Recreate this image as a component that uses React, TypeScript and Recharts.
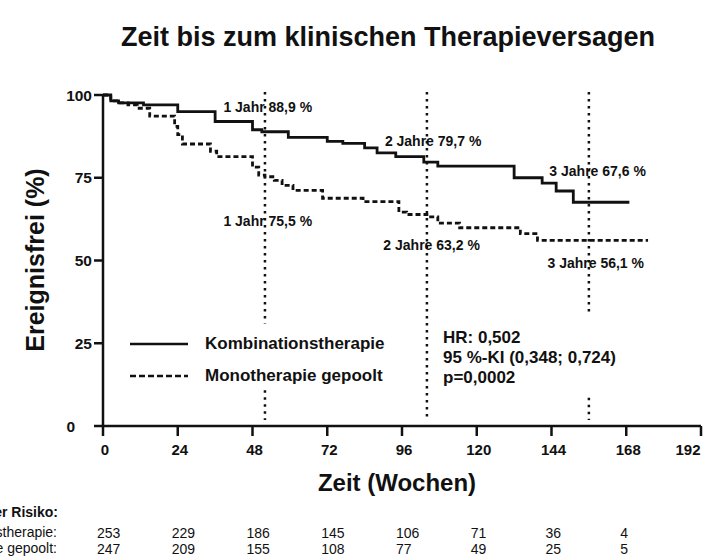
import React from 'react';
import { LineChart, Line, XAxis, YAxis, ReferenceLine, ReferenceDot } from 'recharts';

const FONT = '"Liberation Sans", Arial, Helvetica, sans-serif';

// x-axis ticks (weeks)
const weekTicks = [0, 24, 48, 72, 96, 120, 144, 168, 192];
const survTicks = [0, 25, 50, 75, 100];

// Kaplan-Meier steps: Kombinationstherapie
const kombiTime = [0, 2.5, 5, 13, 24, 36, 48, 51, 59.5, 72, 77, 84, 88, 94, 103, 107.5, 132, 141, 145.5, 151, 169];
const kombiSurv = [100, 98.2, 97.6, 97.0, 95.0, 92.0, 89.5, 88.9, 87.2, 86.0, 85.4, 84.0, 82.5, 81.4, 79.7, 78.5, 75.0, 73.4, 71.0, 67.6, 67.6];

// Kaplan-Meier steps: Monotherapie gepoolt
const monoTime = [0, 2.5, 5, 8, 11, 15, 23, 24, 25.5, 34.5, 36.5, 48, 50, 52, 55, 57.5, 61, 70.5, 83.5, 95, 97.5, 104, 107.5, 114.5, 134, 139.5, 175];
const monoSurv = [100, 98.2, 97.6, 97.0, 96.0, 93.6, 90.5, 88.0, 85.2, 83.0, 81.4, 78.2, 75.8, 75.3, 74.2, 72.7, 71.2, 68.8, 67.8, 64.6, 63.9, 63.2, 61.3, 59.9, 58.1, 56.1, 56.1];

// Numbers at risk
const riskKombi = [253, 229, 186, 145, 106, 71, 36, 4];
const riskMono = [247, 209, 155, 108, 77, 49, 25, 5];

// Landmark lines (weeks) with visible segments [top, bottom] in %
const landmarkWeeks = [52, 104, 156];
const landmarkSegments = [
  [[100.9, 31], [10.8, 1.8]],
  [[100.9, 1.8]],
  [[100.9, 33.5], [8.5, 1.8]],
];

// Landmark annotations
const annoText = ['1 Jahr 88,9 %', '1 Jahr 75,5 %', '2 Jahre 79,7 %', '2 Jahre 63,2 %', '3 Jahre 67,6 %', '3 Jahre 56,1 %'];
const annoX = [52.9, 52.9, 106, 105.5, 158.8, 158.2];
const annoY = [96.5, 62.0, 86.0, 54.8, 77.0, 49.3];

const seriesNames = ['Kombinationstherapie', 'Monotherapie gepoolt'];
const statLines = ['HR: 0,502', '95 %-KI (0,348; 0,724)', 'p=0,0002'];

const kombiData = kombiTime.map((t, i) => ({ t, s: kombiSurv[i] }));
const monoData = monoTime.map((t, i) => ({ t, s: monoSurv[i] }));

const YTick = (props: any) => {
  const { x, y, payload } = props;
  const shift = payload.value === 0 ? 17 : 0;
  return (
    <text x={x - shift} y={y} dy={5.5} textAnchor="end" fontFamily={FONT} fontSize={15.5} fontWeight="bold" fill="#111">
      {payload.value}
    </text>
  );
};

const XTick = (props: any) => {
  const { x, y, payload, width } = props;
  const i = weekTicks.indexOf(payload.value);
  const isLast = i === weekTicks.length - 1;
  return (
    <g>
      <text x={isLast ? x - 13 : x + 2} y={y + 17} textAnchor="middle" fontFamily={FONT} fontSize={15} fontWeight="bold" fill="#111">
        {payload.value}
      </text>
      {i >= 0 && i < riskKombi.length && (
        <text x={x - 6} y={y + 100} textAnchor="start" fontFamily={FONT} fontSize={14} fill="#111">
          {riskKombi[i]}
        </text>
      )}
      {i >= 0 && i < riskMono.length && (
        <text x={x - 6} y={y + 116} textAnchor="start" fontFamily={FONT} fontSize={14} fill="#111">
          {riskMono[i]}
        </text>
      )}
    </g>
  );
};

export default function App() {
  return (
    <div style={{ position: 'absolute', left: 0, top: 0, width: 713, height: 560, background: '#fff', overflow: 'hidden', fontFamily: FONT, color: '#111' }}>
      <div style={{ position: 'absolute', left: 0, width: 776, top: 22, textAlign: 'center', fontSize: 27, fontWeight: 'bold' }}>
        Zeit bis zum klinischen Therapieversagen
      </div>
      <LineChart width={713} height={560} margin={{ top: 95, right: 12, bottom: 0, left: 0 }}>
        <XAxis
          type="number"
          dataKey="t"
          domain={[0, 192]}
          ticks={weekTicks}
          interval={0}
          allowDataOverflow
          axisLine={{ stroke: '#111', strokeWidth: 2.5 }}
          tickLine={{ stroke: '#111', strokeWidth: 2.5 }}
          tickSize={10}
          height={134}
          tick={<XTick />}
        />
        <YAxis
          type="number"
          domain={[0, 100]}
          ticks={survTicks}
          interval={0}
          axisLine={{ stroke: '#111', strokeWidth: 2.5 }}
          tickLine={{ stroke: '#111', strokeWidth: 2.5 }}
          tickSize={9}
          width={103}
          tick={<YTick />}
        />
        {landmarkWeeks.map((w, li) =>
          landmarkSegments[li].map((seg, si) => (
            <ReferenceLine
              key={`rl-${li}-${si}`}
              segment={[{ x: w, y: seg[0] }, { x: w, y: seg[1] }]}
              stroke="#111"
              strokeWidth={2.5}
              strokeDasharray="2.5 4.5"
              ifOverflow="visible"
            />
          ))
        )}
        <Line data={kombiData} dataKey="s" name={seriesNames[0]} type="stepAfter" stroke="#111" strokeWidth={2.8} dot={false} isAnimationActive={false} />
        <Line data={monoData} dataKey="s" name={seriesNames[1]} type="stepAfter" stroke="#111" strokeWidth={2.8} strokeDasharray="5 3" dot={false} isAnimationActive={false} />
        {annoText.map((txt, i) => (
          <ReferenceDot
            key={`a-${i}`}
            x={annoX[i]}
            y={annoY[i]}
            r={0}
            fill="none"
            stroke="none"
            ifOverflow="visible"
            label={{ value: txt, position: 'center', fill: '#111', fontSize: 14, fontWeight: 'bold', fontFamily: FONT }}
          />
        ))}
      </LineChart>
      <div style={{ position: 'absolute', left: 130, top: 328, fontWeight: 'bold', fontSize: 17 }}>
        {seriesNames.map((n, i) => (
          <div key={n} style={{ display: 'flex', alignItems: 'center', height: 32 }}>
            <svg width={58} height={10} style={{ marginRight: 17 }}>
              <line x1={0} y1={5} x2={58} y2={5} stroke="#111" strokeWidth={2.6} strokeDasharray={i === 1 ? '6 3' : undefined} />
            </svg>
            <span>{n}</span>
          </div>
        ))}
      </div>
      <div style={{ position: 'absolute', left: 443, top: 328, fontSize: 17, fontWeight: 'bold', lineHeight: '20px', whiteSpace: 'nowrap' }}>
        {statLines.map((s) => (
          <div key={s}>{s}</div>
        ))}
      </div>
      <div style={{ position: 'absolute', left: 0, width: 794, top: 469, textAlign: 'center', fontSize: 24, fontWeight: 'bold' }}>
        Zeit (Wochen)
      </div>
      <div
        style={{
          position: 'absolute',
          left: 35,
          top: 260,
          transform: 'translate(-50%, -50%) rotate(-90deg)',
          fontSize: 25,
          fontWeight: 'bold',
          whiteSpace: 'nowrap',
        }}
      >
        Ereignisfrei (%)
      </div>
      <div style={{ position: 'absolute', right: 713 - 58, top: 504, fontSize: 14, fontWeight: 'bold', whiteSpace: 'nowrap' }}>
        Anzahl Patienten unter Risiko:
      </div>
      <div style={{ position: 'absolute', right: 713 - 57, top: 524, fontSize: 14, whiteSpace: 'nowrap', lineHeight: '16px' }}>
        <div style={{ textAlign: 'right' }}>Kombinationstherapie:</div>
        <div style={{ textAlign: 'right' }}>Monotherapie gepoolt:</div>
      </div>
    </div>
  );
}
